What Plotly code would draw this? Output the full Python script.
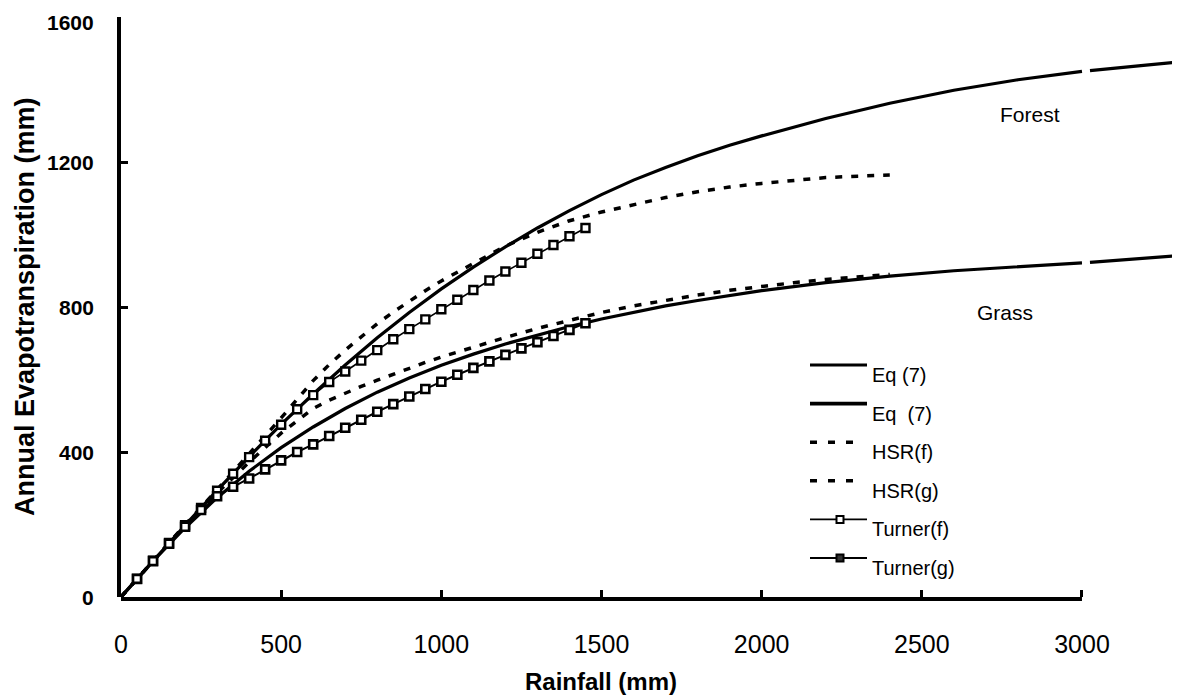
import plotly.graph_objects as go

# ---------------- data ----------------
rain_eq = [0, 100, 200, 300, 400, 500, 600, 700, 800, 900, 1000, 1100, 1200, 1300,
           1400, 1500, 1600, 1700, 1800, 1900, 2000, 2200, 2400, 2600, 2800, 3000,
           None, 3025, 3100, 3200, 3306]
et_eq_forest = [0, 100, 198, 294, 387, 476, 560, 640, 715, 785, 850, 910, 966, 1018,
                1066, 1110, 1150, 1185, 1217, 1246, 1272, 1320, 1362, 1398, 1427, 1450,
                None, 1452, 1459, 1467, 1476]
et_eq_grass = [0, 99, 191, 274, 347, 412, 469, 520, 565, 604, 639, 670, 698, 723,
               746, 767, 786, 803, 818, 832, 845, 867, 885, 900, 912, 922,
               None, 923, 928, 935, 942]

rain_hsr = [0, 100, 200, 300, 400, 500, 600, 650, 700, 750, 800, 850, 900, 950, 1000,
            1050, 1100, 1150, 1200, 1300, 1400, 1500, 1600, 1700, 1800, 1900, 2000,
            2100, 2200, 2300, 2400]
et_hsr_forest = [0, 100, 199, 296, 394, 494, 597, 641, 681, 719, 754, 786, 816, 845, 872,
                 897, 920, 944, 968, 1006, 1038, 1062, 1083, 1102, 1118, 1131, 1141,
                 1150, 1157, 1161, 1164]
et_hsr_grass = [0, 100, 198, 287, 372, 452, 520, 543, 563, 581, 598, 615, 632, 647, 662,
                676, 690, 703, 716, 741, 764, 785, 803, 819, 833, 846, 857,
                867, 876, 884, 890]

rain_turner = [50, 100, 150, 200, 250, 300, 350, 400, 450, 500, 550, 600, 650, 700, 750,
               800, 850, 900, 950, 1000, 1050, 1100, 1150, 1200, 1250, 1300, 1350,
               1400, 1450]
et_turner_forest = [50, 100, 149, 198, 246, 293, 340, 386, 431, 475, 518, 557, 593, 622,
                    652, 681, 711, 739, 766, 794, 820, 847, 873, 898, 922, 947, 971,
                    995, 1018]
et_turner_grass = [50, 99, 147, 194, 240, 278, 304, 327, 352, 377, 400, 421, 444, 467,
                   489, 511, 532, 553, 574, 594, 613, 632, 650, 668, 686, 703, 720,
                   737, 755]

x_ticks = [0, 500, 1000, 1500, 2000, 2500, 3000]
y_ticks = [0, 400, 800, 1200, 1600]
legend_labels = ["Eq (7)", "Eq\u00a0 (7)", "HSR(f)", "HSR(g)", "Turner(f)", "Turner(g)"]

# ---------------- geometry ----------------
# the page body has an 8px margin, so the figure sits at (8, 8) in the window
OFF = 8
W, H = 1180 - OFF, 698 - OFF
ML, MR, MT, MB = 121 - OFF, 0, 17 - OFF, 101
PW, PH = W - ML - MR, H - MT - MB
X_MAX, Y_MAX = 3306, 1600
X_AXIS_END = 3000
FONT = "Liberation Sans, Arial, Helvetica, sans-serif"


def px(xp):
    """window pixel x -> paper x"""
    return (xp - OFF - ML) / PW


def py(yp):
    """window pixel y -> paper y"""
    return (OFF + H - MB - yp) / PH


fig = go.Figure()

solid = dict(color="black", width=3.2)
dashed = dict(color="black", width=3.5, dash="7px,9px")

fig.add_trace(go.Scatter(x=rain_eq, y=et_eq_forest, mode="lines", line=solid,
                         name=legend_labels[0], connectgaps=False))
fig.add_trace(go.Scatter(x=rain_eq, y=et_eq_grass, mode="lines", line=solid,
                         name=legend_labels[1], connectgaps=False))
fig.add_trace(go.Scatter(x=rain_hsr, y=et_hsr_forest, mode="lines", line=dashed,
                         name=legend_labels[2]))
fig.add_trace(go.Scatter(x=rain_hsr, y=et_hsr_grass, mode="lines", line=dashed,
                         name=legend_labels[3]))
fig.add_trace(go.Scatter(x=rain_turner, y=et_turner_forest, mode="lines+markers",
                         line=dict(color="black", width=1.6),
                         marker=dict(symbol="square", size=8, color="white",
                                     line=dict(color="black", width=2.4)),
                         name=legend_labels[4]))
fig.add_trace(go.Scatter(x=rain_turner, y=et_turner_grass, mode="lines+markers",
                         line=dict(color="black", width=2),
                         marker=dict(symbol="square", size=8, color="white",
                                     line=dict(color="black", width=2.6)),
                         name=legend_labels[5]))

shapes = []
# x axis line stops at 3000 while the curves run on
shapes.append(dict(type="line", xref="x", yref="paper", x0=0, x1=X_AXIS_END,
                   y0=-2 / PH, y1=-2 / PH, line=dict(color="black", width=4)))

annotations = []
# y tick labels (the top one sits a little below its tick, as in the original)
for v in y_ticks:
    annotations.append(dict(xref="paper", yref="y", x=px(96), y=v,
                            yshift=-5 if v == Y_MAX else 0,
                            text="<b>%d</b>" % v, showarrow=False,
                            xanchor="right", yanchor="middle",
                            font=dict(family=FONT, size=21, color="black")))

# manual legend
leg_x0, leg_x1 = 810, 867
leg_line_y0, row_step = 365, 38.6
leg_text_x = 870
styles = [
    dict(width=3.2, dash="solid", marker=None),
    dict(width=3.6, dash="solid", marker=None),
    dict(width=3.5, dash="7px,11px", marker=None),
    dict(width=3.5, dash="7px,11px", marker=None),
    dict(width=1.6, dash="solid", marker="white"),
    dict(width=2.2, dash="solid", marker="#333333"),
]
for i, (lab, st) in enumerate(zip(legend_labels, styles)):
    ly = leg_line_y0 + i * row_step
    x1 = leg_x1 if st["dash"] == "solid" else 858
    shapes.append(dict(type="line", xref="paper", yref="paper",
                       x0=px(leg_x0), x1=px(x1), y0=py(ly), y1=py(ly),
                       line=dict(color="black", width=st["width"], dash=st["dash"])))
    if st["marker"]:
        mx = 840
        shapes.append(dict(type="rect", xref="paper", yref="paper",
                           x0=px(mx - 3.5), x1=px(mx + 3.5), y0=py(ly - 3.5), y1=py(ly + 3.5),
                           fillcolor=st["marker"], line=dict(color="black", width=2)))
    annotations.append(dict(xref="paper", yref="paper", x=px(leg_text_x), y=py(ly + 10),
                            text=lab, showarrow=False, xanchor="left", yanchor="middle",
                            font=dict(family=FONT, size=20, color="black")))

# curve labels
annotations.append(dict(xref="x", yref="y", x=2838, y=1330, text="Forest", showarrow=False,
                        font=dict(family=FONT, size=21, color="black")))
annotations.append(dict(xref="x", yref="y", x=2760, y=786, text="Grass", showarrow=False,
                        font=dict(family=FONT, size=21, color="black")))
# axis titles
annotations.append(dict(xref="x", yref="paper", x=X_AXIS_END / 2, y=py(697),
                        text="<b>Rainfall (mm)</b>", showarrow=False, yanchor="bottom",
                        font=dict(family=FONT, size=24, color="black")))
annotations.append(dict(xref="paper", yref="y", x=px(25), y=Y_MAX / 2,
                        text="<b>Annual Evapotranspiration (mm)</b>", showarrow=False,
                        textangle=-90, xanchor="center", yanchor="middle",
                        font=dict(family=FONT, size=27, color="black")))

fig.update_layout(
    width=W, height=H,
    margin=dict(l=ML, r=MR, t=MT, b=MB, pad=0, autoexpand=False),
    paper_bgcolor="white", plot_bgcolor="white",
    showlegend=False,
    shapes=shapes, annotations=annotations,
    xaxis=dict(range=[0, X_MAX], showline=False, showgrid=False, zeroline=False,
               automargin=False, ticklabeloverflow="allow",
               ticks="inside", ticklen=7, tickwidth=2.5, tickcolor="black",
               tickvals=x_ticks, ticktext=[str(v) for v in x_ticks],
               tickfont=dict(family=FONT, size=25, color="black"),
               ticklabelstandoff=30),
    yaxis=dict(range=[0, Y_MAX], showline=True, linewidth=4, linecolor="black",
               showgrid=False, zeroline=False, automargin=False,
               ticks="inside", ticklen=7, tickwidth=2.5, tickcolor="black",
               tickvals=y_ticks, showticklabels=False),
)

fig.write_html("out.html")
